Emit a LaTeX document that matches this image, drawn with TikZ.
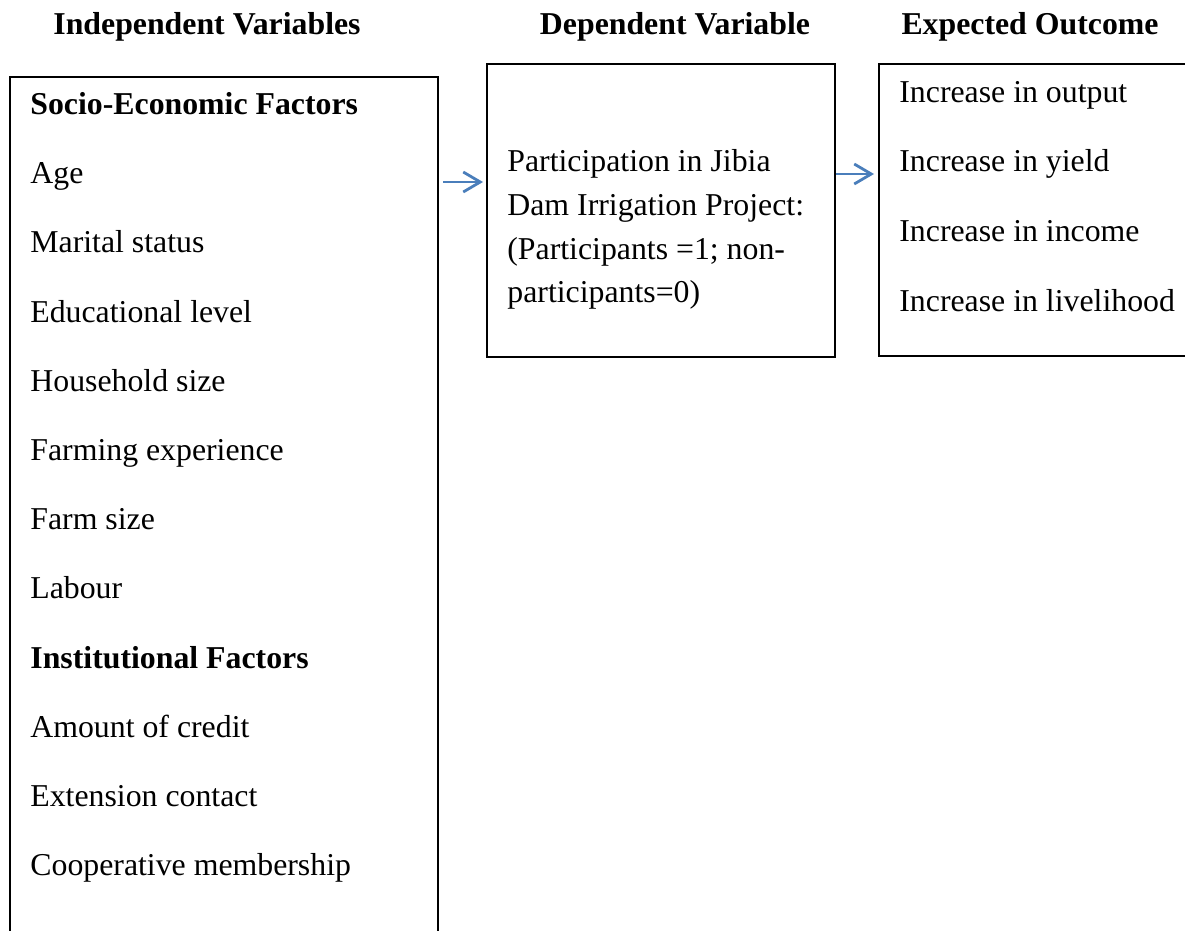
\documentclass[tikz,border=0pt]{standalone}
\usepackage{fontspec}
\setmainfont{Liberation Serif}
\usetikzlibrary{arrows.meta}
\definecolor{arrowblue}{RGB}{74,126,187}
\begin{document}
\begin{tikzpicture}[x=0.5pt,y=-0.5pt,
  box/.style={draw=black, line width=1pt, inner sep=0pt, anchor=north west},
  txt/.style={anchor=base west, inner sep=0pt, font=\fontsize{15.9pt}{19pt}\selectfont},
  hdr/.style={anchor=base, inner sep=0pt, font=\fontsize{15.9pt}{19pt}\selectfont\bfseries},
  arr/.style={draw=arrowblue, line width=1.4pt, -{Straight Barb[length=8.5pt,width=10pt,line width=1.4pt]}}]
\useasboundingbox (0,0) rectangle (1185,931);
\clip (0,0) rectangle (1185,931);
% headers
\node[hdr] (h1) at (207,35) {Independent Variables};
\node[hdr] (h2) at (675,35) {Dependent Variable};
\node[hdr] (h3) at (1030,35) {Expected Outcome};
% boxes
\node[box, minimum width=214pt, minimum height=470pt] (indep) at (9,76) {};
\node[box, minimum width=174pt, minimum height=146.5pt] (dep) at (486,63) {};
\node[box, minimum width=170pt, minimum height=146pt] (out) at (878,63) {};
% left list
\node[txt, font=\fontsize{15.9pt}{19pt}\selectfont\bfseries] (l0) at (30,115) {Socio-Economic Factors};
\node[txt] (l1) at (30,184) {Age};
\node[txt] (l2) at (30,253) {Marital status};
\node[txt] (l3) at (30,322) {Educational level};
\node[txt] (l4) at (30,391) {Household size};
\node[txt] (l5) at (30,460) {Farming experience};
\node[txt] (l6) at (30,529) {Farm size};
\node[txt] (l7) at (30,598) {Labour};
\node[txt, font=\fontsize{15.9pt}{19pt}\selectfont\bfseries] (l8) at (30,668) {Institutional Factors};
\node[txt] (l9) at (30,737) {Amount of credit};
\node[txt] (l10) at (30,806) {Extension contact};
\node[txt] (l11) at (30,875) {Cooperative membership};
% middle text
\node[txt] (d1) at (507,172) {Participation in Jibia};
\node[txt] (d2) at (507,216) {Dam Irrigation Project:};
\node[txt] (d3) at (507,259) {(Participants =1; non-};
\node[txt] (d4) at (507,302) {participants=0)};
% right text
\node[txt] (o1) at (899,103) {Increase in output};
\node[txt] (o2) at (899,172) {Increase in yield};
\node[txt] (o3) at (899,242) {Increase in income};
\node[txt] (o4) at (899,311) {Increase in livelihood};
% arrows
\coordinate (ya) at (0,182);
\coordinate (yb) at (0,174);
\draw[arr, shorten <=2pt, shorten >=1.5pt] (indep.east |- ya) -- (dep.west |- ya);
\draw[arr, shorten >=2pt] (dep.east |- yb) -- (out.west |- yb);
\end{tikzpicture}
\end{document}
